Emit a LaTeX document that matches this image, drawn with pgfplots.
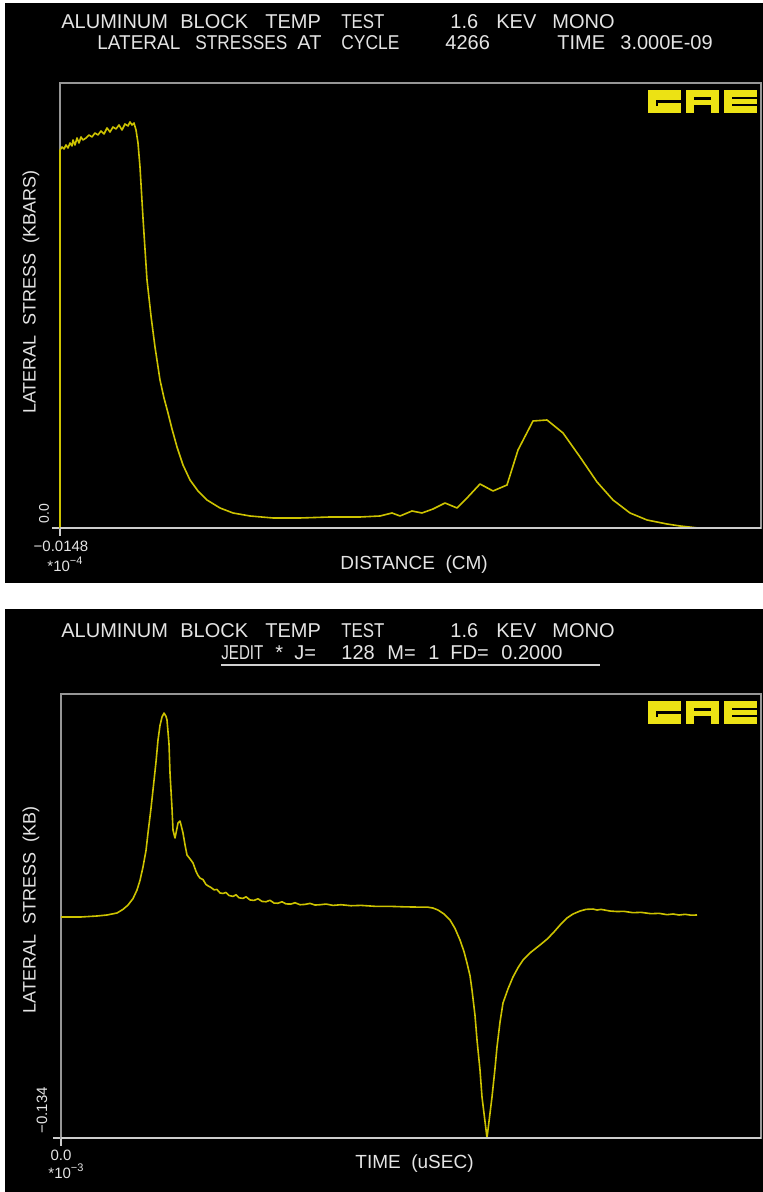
\documentclass[border=0pt]{standalone}
\usepackage{fontspec}
\setmainfont{Liberation Sans}
\usepackage{pgfplots}
\pgfplotsset{compat=1.18}
\definecolor{curve}{RGB}{205,195,0}
\definecolor{logo}{RGB}{236,226,20}
\definecolor{boxgray}{RGB}{150,150,150}
\definecolor{axgray}{RGB}{205,205,205}
\definecolor{txt}{RGB}{228,228,228}
\newcommand{\w}[3]{\node[anchor=base west, inner sep=0pt, text=txt, font=\fontsize{10}{12}\selectfont] at (#1pt,#2pt) {#3};}
\newcommand{\ws}[4]{\node[anchor=base west, inner sep=0pt, text=txt, font=\fontsize{10}{12}\selectfont] at (#1pt,#2pt) {\resizebox{#3pt}{\height}{#4}};}
\newcommand{\gae}[2]{%
\begin{scope}[shift={(#1pt,#2pt)}]
 \fill[logo] (0pt,0pt) rectangle (16.5pt,-11.5pt);
 \fill[logo] (19pt,0pt) rectangle (35.5pt,-11.5pt);
 \fill[logo] (38pt,0pt) rectangle (54.5pt,-11.5pt);
 \fill[black] (4pt,-5.2pt) rectangle (16.6pt,-6.4pt);
 \fill[black] (4pt,-5.2pt) rectangle (5.2pt,-8pt);
 \fill[black] (23pt,-3.6pt) rectangle (31.5pt,-4.8pt);
 \fill[black] (23pt,-7.6pt) rectangle (31.5pt,-11.6pt);
 \fill[black] (42pt,-3.3pt) rectangle (54.6pt,-4.5pt);
 \fill[black] (42pt,-7pt) rectangle (54.6pt,-8.2pt);
\end{scope}}
\pgfplotsset{gaestyle/.style={
  scale only axis, clip=false,
  axis line style={draw=boxgray, line width=0.9pt},
  tick pos=left, tick align=outside, major tick length=4pt,
  tick style={draw=axgray, line width=0.8pt},
  xticklabels={}, yticklabels={},
}}
\begin{document}
\begin{tikzpicture}
\fill[white] (0pt,0pt) rectangle (381.5pt,596pt);
\fill[black] (2.5pt,304.5pt) rectangle (381.5pt,594.5pt);
\fill[black] (2.5pt,0pt) rectangle (381.5pt,291.5pt);

\begin{axis}[gaestyle,
  at={(30pt,332pt)}, anchor=south west,
  width=350.5pt, height=222.5pt,
  xmin=0, xmax=701, ymin=0, ymax=445,
  xtick={0}, ytick={0}]
\addplot[curve, line width=0.8pt, line join=round] coordinates {
(0,0) (0,378) (2,381) (4,379) (6,383) (8,380) (10,385) (12,382) (13,388) (15,383)
(17,390) (19,385) (21,391) (23,388) (26,390) (29,393) (32,391) (35,395) (38,393) (41,397)
(44,394) (47,400) (50,396) (53,401) (56,399) (59,403) (62,398) (65,404) (68,402)
(70,406) (72,403) (74,405) (76,398) (78,385) (80,361) (83,310) (87,248) (91,212)
(95,181) (100,148) (104,130) (108,115) (112,99) (117,81) (123,63) (130,48) (138,37)
(147,28) (160,20) (173,15) (190,12) (213,10) (240,10) (270,11) (300,11) (320,12)
(332,15) (340,12) (352,17) (362,15) (373,19) (385,25) (397,20) (407,30) (420,44)
(433,37) (447,43) (458,78) (473,107) (487,108) (503,95) (520,71) (537,46) (553,28)
(570,15) (587,8) (607,4) (620,2) (638,0)
};
\draw[axgray, line width=1pt] (rel axis cs:0,0) -- (rel axis cs:1,0);
\end{axis}

\begin{axis}[gaestyle,
  at={(30.5pt,27pt)}, anchor=south west,
  width=350pt, height=222pt,
  xmin=0, xmax=700, ymin=-0.134, ymax=0.134,
  xtick={0}, ytick={-0.134}]
\addplot[curve, line width=0.8pt, line join=round] coordinates {
(0,-0.0006) (20,-0.0006) (36,0) (46,0.0006) (56,0.0018) (62,0.0040) (67,0.0066)
(72,0.0105) (76,0.0157) (79,0.0215) (82,0.0296) (85,0.0395) (87,0.0501) (90,0.0650)
(92,0.0761) (95,0.0930) (97,0.1062) (99,0.1150) (101,0.1201) (103,0.1225) (105,0.1205)
(106,0.1183) (108,0.1040) (109,0.0863) (111,0.0650) (112,0.0519) (114,0.0471)
(116,0.0530) (117,0.0561) (119,0.0573) (120,0.0550) (122,0.0501) (124,0.0430)
(126,0.0368) (129,0.0345) (132,0.0320) (135,0.0270) (137,0.0245) (139,0.0229)
(142,0.0220) (145,0.0190) (147,0.0182) (150,0.0172) (153,0.0158) (156,0.0160)
(159,0.0139) (162,0.0136) (165,0.0142) (168,0.0124) (172,0.0118) (175,0.0128)
(178,0.0110) (182,0.0106) (185,0.0116) (189,0.0097) (193,0.0094) (197,0.0104)
(201,0.0088) (205,0.0086) (209,0.0095) (213,0.0078) (217,0.0077) (221,0.0086)
(225,0.0073) (230,0.0072) (234,0.0080) (239,0.0068) (244,0.0070) (249,0.0076)
(254,0.0066) (259,0.0068) (265,0.0072) (272,0.0064) (280,0.0068) (290,0.0062)
(300,0.0064) (315,0.0058) (330,0.0058) (345,0.0055) (355,0.0054) (366,0.0054)
(372,0.0048) (377,0.0036) (383,0.0012) (389,-0.0024) (394,-0.0075) (399,-0.0145)
(403,-0.0215) (406,-0.0284) (409,-0.0360) (411,-0.0447) (414,-0.0600) (416,-0.0748)
(419,-0.0930) (421,-0.1093) (424,-0.1240) (426,-0.1340) (428,-0.1240) (431,-0.1093)
(434,-0.0920) (436,-0.0791) (439,-0.0640) (442,-0.0525) (447,-0.0440) (452,-0.0368)
(457,-0.0312) (462,-0.0266) (470,-0.0218) (479,-0.0175) (486,-0.0140) (492,-0.0103)
(499,-0.0055) (506,-0.0012) (512,0.0012) (519,0.0030) (525,0.0040) (532,0.0042)
(536,0.0036) (540,0.0040) (549,0.0030) (556,0.0027) (563,0.0028) (572,0.0020)
(580,0.0022) (590,0.0014) (598,0.0016) (606,0.0008) (612,0.0012) (618,0.0006)
(624,0.0010) (630,0.0005) (636,0.0006)
};
\draw[axgray, line width=1pt] (rel axis cs:0,0) -- (rel axis cs:1,0);
\end{axis}

% ---- panel 1 texts
\w{30.5}{581.5}{ALUMINUM}\w{90}{581.5}{BLOCK}\w{132.5}{581.5}{TEMP}\ws{170.5}{581.5}{21.5}{TEST}
\w{225}{581.5}{1.6}\w{248}{581.5}{KEV}\w{276}{581.5}{MONO}
\ws{48.5}{571}{41.5}{LATERAL}\ws{97.5}{571}{46}{STRESSES}\w{148.5}{571}{AT}\ws{170.5}{571}{29}{CYCLE}
\w{222.5}{571}{4266}\w{278.5}{571}{TIME}\w{310}{571}{3.000E-09}
\node[rotate=90, text=txt, font=\fontsize{9}{11}\selectfont, inner sep=0pt] at (15.5pt,450pt) {LATERAL\ \ STRESS\ \ (KBARS)};
\node[rotate=90, anchor=west, text=txt, font=\fontsize{7}{8}\selectfont, inner sep=0pt] at (22pt,334pt) {0.0};
\node[anchor=base, text=txt, font=\fontsize{7.5}{9}\selectfont, inner sep=0pt] at (30.5pt,320pt) {−0.0148};
\node[anchor=base, text=txt, font=\fontsize{7.5}{9}\selectfont, inner sep=0pt] at (32.5pt,310pt) {*10\raisebox{0.9ex}{\fontsize{5.5}{6}\selectfont −4}};
\node[anchor=base west, text=txt, font=\fontsize{9.5}{11}\selectfont, inner sep=0pt] at (170pt,311pt) {DISTANCE\ \ (CM)};
\gae{324}{551}

% ---- panel 2 texts
\w{30.5}{277}{ALUMINUM}\w{90}{277}{BLOCK}\w{132.5}{277}{TEMP}\ws{170.5}{277}{21.5}{TEST}
\w{225}{277}{1.6}\w{248}{277}{KEV}\w{276}{277}{MONO}
\ws{110.5}{266}{21}{JEDIT}\w{137.5}{266}{*}\w{147}{266}{J=}\w{170.5}{266}{128}
\w{193.5}{266}{M=}\w{214}{266}{1}\w{225}{266}{FD=}\w{250.5}{266}{0.2000}
\draw[txt!80!gray, line width=0.9pt] (110.5pt,263.5pt) -- (300pt,263.5pt);
\node[rotate=90, text=txt, font=\fontsize{9}{11}\selectfont, inner sep=0pt] at (15.5pt,141pt) {LATERAL\ \ STRESS\ \ (KB)};
\node[rotate=90, anchor=west, text=txt, font=\fontsize{7.5}{9}\selectfont, inner sep=0pt] at (21pt,29pt) {−0.134};
\node[anchor=base, text=txt, font=\fontsize{7.5}{9}\selectfont, inner sep=0pt] at (30.5pt,16pt) {0.0};
\node[anchor=base, text=txt, font=\fontsize{7.5}{9}\selectfont, inner sep=0pt] at (33pt,6.5pt) {*10\raisebox{0.9ex}{\fontsize{5.5}{6}\selectfont −3}};
\node[anchor=base west, text=txt, font=\fontsize{9.5}{11}\selectfont, inner sep=0pt] at (177.5pt,11.5pt) {TIME\ \ (uSEC)};
\gae{324}{245.5}

\pgfresetboundingbox
\path[use as bounding box] (0pt,0pt) rectangle (381.5pt,596pt);
\end{tikzpicture}
\end{document}
